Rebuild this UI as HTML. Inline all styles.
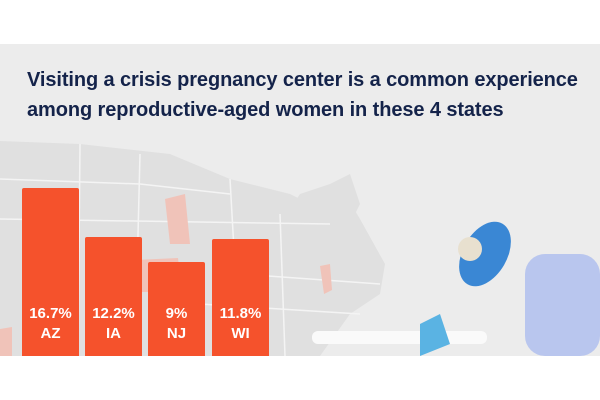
<!DOCTYPE html>
<html><head><style>
body{margin:0;width:600px;height:400px;background:#fff;overflow:hidden;font-family:"Liberation Sans",sans-serif}
.bg{position:absolute;left:0;top:44px;width:600px;height:312px;background:#ececec}
.t{position:absolute;left:27px;top:65px;font-size:20px;font-weight:bold;color:#14234a;line-height:30px;letter-spacing:-0.1px}
.b{position:absolute;background:#f5522c;border-radius:2px 2px 0 0;bottom:44px;width:57px;color:#fff;font-weight:bold;font-size:15px;text-align:center}
.b span{position:absolute;left:0;right:0}
</style></head><body>
<div class="bg"></div>
<svg style="position:absolute;left:0;top:44px" width="600" height="312">
<path d="M0 97 L80 100 L170 110 L230 135 L290 150 L330 170 L345 150 L360 175 L385 220 L380 250 L350 270 L320 312 L0 312Z" fill="#e0e0e0"/>
<path d="M250 185 L280 180 L300 150 L330 140 L350 130 L360 160 L340 200 L300 210 L260 210Z" fill="#e0e0e0"/>
<g stroke="#f4f4f4" stroke-width="1.5" fill="none">
<path d="M0 135 L140 140 L230 150"/><path d="M0 175 L330 180"/><path d="M80 100 L78 312"/><path d="M140 110 L135 312"/><path d="M230 135 L240 312"/><path d="M280 170 L285 312"/><path d="M240 230 L380 240"/><path d="M200 260 L360 270"/>
</g>
<path d="M165 155 L185 150 L190 200 L170 200Z" fill="#f0c3b9"/>
<path d="M135 216 L178 214 L182 248 L138 248Z" fill="#f0c3b9"/>
<path d="M320 222 L330 220 L332 246 L324 250Z" fill="#f0c3b9"/>
<path d="M0 285 L12 283 L12 312 L0 312Z" fill="#f0c3b9"/>
<ellipse cx="485" cy="210" rx="22" ry="35" fill="#3a87d4" transform="rotate(30 485 210)"/>
<circle cx="470" cy="205" r="12" fill="#e8e0cf"/>
<rect x="525" y="210" width="75" height="102" rx="20" fill="#b9c6ee"/>
<rect x="312" y="287" width="175" height="13" rx="6" fill="#fafafa"/>
<path d="M420 280 L440 270 L450 300 L420 312Z" fill="#5ab3e3"/>
</svg>
<div class="t">Visiting a crisis pregnancy center is a common experience<br>among reproductive-aged women in these 4 states</div>
<div class="b" style="left:22px;top:188px"><span style="top:117px">16.7%</span><span style="top:137px">AZ</span></div>
<div class="b" style="left:85px;top:237px"><span style="top:68px">12.2%</span><span style="top:88px">IA</span></div>
<div class="b" style="left:148px;top:262px"><span style="top:43px">9%</span><span style="top:63px">NJ</span></div>
<div class="b" style="left:212px;top:239px"><span style="top:66px">11.8%</span><span style="top:86px">WI</span></div>
</body></html>
